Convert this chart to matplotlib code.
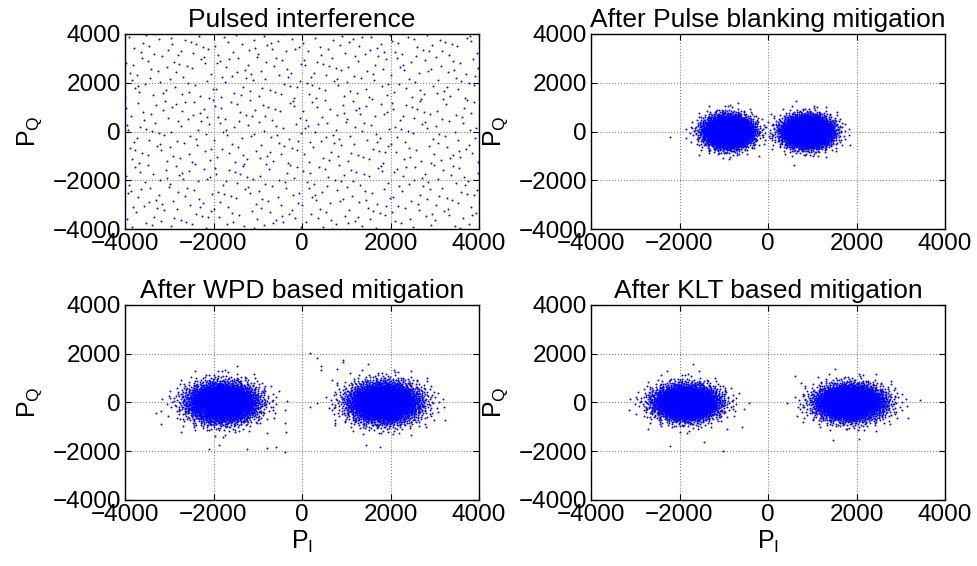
import numpy as np
import matplotlib
matplotlib.use("Agg")
import matplotlib.pyplot as plt

plt.rcParams['font.family'] = ['Liberation Sans', 'DejaVu Sans']
plt.rcParams['mathtext.fontset'] = 'custom'
plt.rcParams['mathtext.rm'] = 'Liberation Sans'
plt.rcParams['mathtext.it'] = 'Liberation Sans:italic'

# panel titles
titles = ["Pulsed interference", "After Pulse blanking mitigation",
          "After WPD based mitigation", "After KLT based mitigation"]
ticks = [-4000, -2000, 0, 2000, 4000]

pulsed_n = 750
pulsed_range = [-4000, 4000]

# clusters per panel: (centre I, centre Q, spread I, spread Q, count)
blanking_clusters = [(-900, 0, 270, 320, 4000), (880, 0, 280, 320, 4000)]
wpd_clusters = [(-1800, 0, 390, 400, 4000), (1850, 0, 400, 410, 4000)]
klt_clusters = [(-1850, 0, 360, 350, 4000), (1850, 0, 380, 360, 4000)]

# stray points
blanking_stray_i = [-2220]
blanking_stray_q = [-210]
wpd_stray_i = [180, 330, 430, 430, 930, 930, 790, -380, -370, -380, -590, -780,
               -1250, -2100, -1870, 180, -350, 1760, 750, -3300, -3190]
wpd_stray_q = [2030, 1810, 1500, 1330, 1750, 1650, 1370, -840, -1210, -2030, -1820, -1850,
               -1900, -1900, -1740, -170, 80, -1810, -840, -420, -880]
klt_stray_i = [-440, -590, -1020, -2220, -1450, 610, 650, 2050, 3430, -1700, -2280]
klt_stray_q = [-20, -1000, -1990, -1790, -1620, 1090, -550, -1500, 100, 1580, 1300]


def halton(n, base, start):
    # low discrepancy sequence in (0, 1)
    out = np.zeros(n)
    for j in range(n):
        k = j + start
        f = 1.0
        r = 0.0
        while k > 0:
            f /= base
            r += f * (k % base)
            k //= base
        out[j] = r
    return out


def cloud(cx, cy, sx, sy, n, start):
    u1 = halton(n, 2, start)
    u2 = halton(n, 3, start)
    rad = np.sqrt(-2 * np.log(u1))
    th = 2 * np.pi * u2
    return cx + sx * rad * np.cos(th), cy + sy * rad * np.sin(th)


def panel_points(clusters, stray_i, stray_q):
    xs, ys = [], []
    for k, (cx, cy, sx, sy, n) in enumerate(clusters):
        x, y = cloud(cx, cy, sx, sy, n, 17 + 5003 * k)
        xs.append(x)
        ys.append(y)
    xs.append(np.array(stray_i))
    ys.append(np.array(stray_q))
    return np.concatenate(xs), np.concatenate(ys)


lo, hi = pulsed_range
p1x = lo + (hi - lo) * halton(pulsed_n, 2, 12345)
p1y = lo + (hi - lo) * halton(pulsed_n, 3, 12345)

data = [(p1x, p1y),
        panel_points(blanking_clusters, blanking_stray_i, blanking_stray_q),
        panel_points(wpd_clusters, wpd_stray_i, wpd_stray_q),
        panel_points(klt_clusters, klt_stray_i, klt_stray_q)]

fig = plt.figure(figsize=(9.77, 5.66), dpi=100)
W, H = 977.0, 566.0
boxes = [(125, 34), (591, 34), (125, 305), (591, 305)]

for k, ((px, py), (x, y)) in enumerate(zip(boxes, data)):
    ax = fig.add_axes([px / W, 1 - (py + 195) / H, 354 / W, 195 / H])
    ax.plot(x, y, '.', color='b', ms=2.8, mew=0)
    ax.set_xlim(-4000, 4000)
    ax.set_ylim(-4000, 4000)
    ax.set_xticks(ticks)
    ax.set_yticks(ticks)
    ax.grid(True, ls=':', color='0.5', lw=0.8)
    ax.tick_params(direction='in', length=4, width=0.8, top=True, right=True,
                   labelsize=17.5, pad=3)
    for s in ax.spines.values():
        s.set_linewidth(1.0)
    ax.set_title(titles[k], fontsize=19, pad=5)
    ax.set_ylabel(r'P$_{\mathrm{Q}}$', fontsize=18, labelpad=6)
    if k >= 2:
        ax.set_xlabel(r'P$_{\mathrm{I}}$', fontsize=18, labelpad=2)

fig.savefig('out.png', dpi=100)
plt.close()
